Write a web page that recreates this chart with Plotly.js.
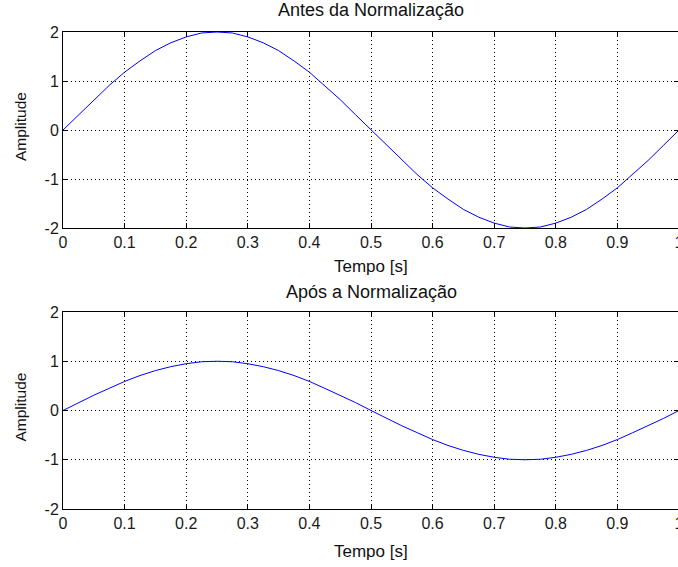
<!DOCTYPE html>
<html>
<head>
<meta charset="utf-8">
<script src="https://cdn.plot.ly/plotly-3.0.1.min.js"></script>
<style>
html, body { margin:0; padding:0; overflow:hidden; background:#fff; }
#chart { width:680px; height:567px; }
</style>
</head>
<body>
<div id="chart"></div>
<script>
// Time samples (s)
const tempo = [0,0.025,0.05,0.075,0.1,0.125,0.15,0.175,0.2,0.225,0.25,0.275,0.3,0.325,0.35,0.375,0.4,0.425,0.45,0.475,0.5,
  0.525,0.55,0.575,0.6,0.625,0.65,0.675,0.7,0.725,0.75,0.775,0.8,0.825,0.85,0.875,0.9,0.925,0.95,0.975,1];
// Signal before normalization (amplitude ~2)
const antes = [0,0.31,0.62,0.91,1.18,1.41,1.62,1.78,1.90,1.98,2.0,1.98,1.90,1.78,1.62,1.41,1.18,0.91,0.62,0.31,0,
  -0.31,-0.62,-0.91,-1.18,-1.41,-1.62,-1.78,-1.90,-1.98,-2.0,-1.98,-1.90,-1.78,-1.62,-1.41,-1.18,-0.91,-0.62,-0.31,0];
// Signal after normalization (amplitude ~1)
const apos = [0,0.16,0.31,0.45,0.59,0.71,0.81,0.89,0.95,0.99,1.0,0.99,0.95,0.89,0.81,0.71,0.59,0.45,0.31,0.16,0,
  -0.16,-0.31,-0.45,-0.59,-0.71,-0.81,-0.89,-0.95,-0.99,-1.0,-0.99,-0.95,-0.89,-0.81,-0.71,-0.59,-0.45,-0.31,-0.16,0];
const xTicks = [0,0.1,0.2,0.3,0.4,0.5,0.6,0.7,0.8,0.9,1];
const xTickText = ["0","0.1","0.2","0.3","0.4","0.5","0.6","0.7","0.8","0.9","1"];
const yTicks = [-2,-1,0,1,2];
const yTickText = ["-2","-1","0","1","2"];
const titles = ["Antes da Normalização","Após a Normalização"];
const xLabel = "Tempo [s]";
const yLabel = "Amplitude";

const fam = "Liberation Sans, Arial, sans-serif";
const tickFont = {family:fam, size:16, color:"#1a1a1a"};
const titleFont = {family:fam, size:18, color:"#111"};
const xlabFont = {family:fam, size:17, color:"#111"};
const ylabFont = {family:fam, size:15.5, color:"#111"};

function xax(anchor){
  return {anchor:anchor, range:[0,1], tickvals:xTicks, ticktext:xTickText, ticks:"inside", ticklen:5,
    tickcolor:"#000", showline:true, linecolor:"#000", linewidth:1, mirror:"ticks", showgrid:true,
    gridcolor:"#000", griddash:"1px,3px", gridwidth:1, zeroline:false, automargin:false, tickfont:tickFont,
    ticklabeloverflow:"allow", fixedrange:true};
}
function yax(anchor, dom){
  return {anchor:anchor, domain:dom, range:[-2,2], tickvals:yTicks, ticktext:yTickText, ticks:"inside", ticklen:5,
    tickcolor:"#000", showline:true, linecolor:"#000", linewidth:1, mirror:"ticks", showgrid:true,
    gridcolor:"#000", griddash:"1px,3px", gridwidth:1, zeroline:false, automargin:false, tickfont:tickFont,
    ticklabeloverflow:"allow", fixedrange:true};
}

const traces = [
  {x:tempo, y:antes, xaxis:"x", yaxis:"y", mode:"lines", line:{color:"#0000ff", width:1}, hoverinfo:"skip"},
  {x:tempo, y:apos, xaxis:"x2", yaxis:"y2", mode:"lines", line:{color:"#0000ff", width:1}, hoverinfo:"skip"}
];

const layout = {
  width:680, height:567,
  margin:{l:63, r:1, t:32, b:58},
  paper_bgcolor:"#fff", plot_bgcolor:"#fff",
  showlegend:false, font:tickFont,
  xaxis:xax("y"), yaxis:yax("x",[0.5891,1]),
  xaxis2:xax("y2"), yaxis2:yax("x2",[0,0.413]),
  annotations:[
    {text:titles[0], xref:"paper", yref:"paper", x:0.5, y:1, yshift:22, showarrow:false, xanchor:"center", yanchor:"middle", font:titleFont},
    {text:titles[1], xref:"paper", yref:"paper", x:0.5, y:0.413, yshift:20, showarrow:false, xanchor:"center", yanchor:"middle", font:titleFont},
    {text:xLabel, xref:"paper", yref:"paper", x:0.5, y:0.5891, yshift:-39, showarrow:false, xanchor:"center", yanchor:"middle", font:xlabFont},
    {text:xLabel, xref:"paper", yref:"paper", x:0.5, y:0, yshift:-42, showarrow:false, xanchor:"center", yanchor:"middle", font:xlabFont},
    {text:yLabel, xref:"paper", yref:"paper", x:0, xshift:-43, y:0.7945, yshift:3, textangle:-90, showarrow:false, xanchor:"center", yanchor:"middle", font:ylabFont},
    {text:yLabel, xref:"paper", yref:"paper", x:0, xshift:-43, y:0.2065, yshift:3, textangle:-90, showarrow:false, xanchor:"center", yanchor:"middle", font:ylabFont}
  ]
};

Plotly.newPlot("chart", traces, layout, {displayModeBar:false, staticPlot:true});
</script>
</body>
</html>
